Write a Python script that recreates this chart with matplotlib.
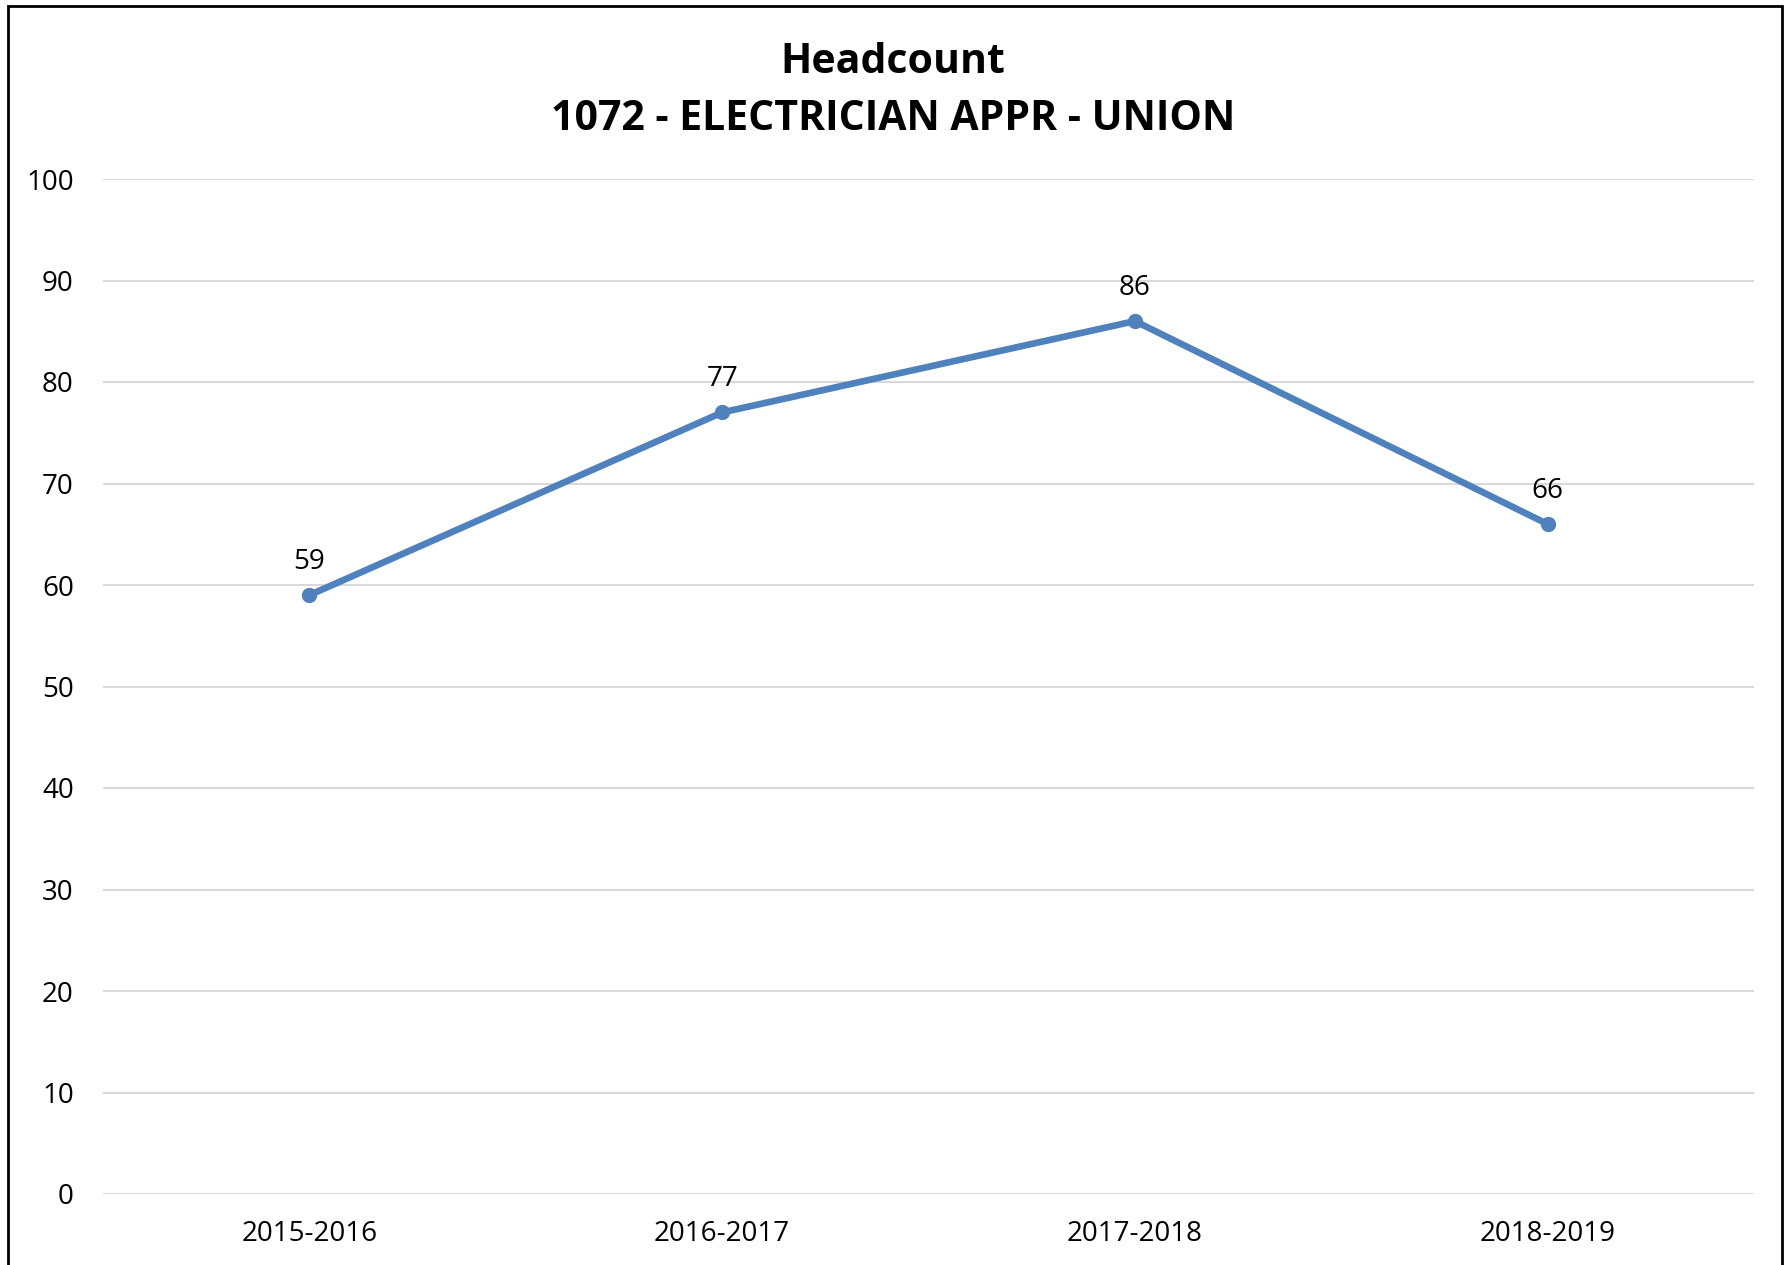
import matplotlib.pyplot as plt
from matplotlib.patches import Rectangle

# data
years = ['2015-2016', '2016-2017', '2017-2018', '2018-2019']
headcount = [59, 77, 86, 66]
y_ticks = list(range(0, 101, 10))

plt.rcParams['font.family'] = ['Open Sans', 'DejaVu Sans']

fig = plt.figure(figsize=(17.86, 12.65), dpi=100)
W, H = 1786, 1265
ax = fig.add_axes([103 / W, 1 - 1194 / H, (1754 - 103) / W, (1194 - 179) / H])

x = range(len(years))
ax.plot(x, headcount, color='#4F81BD', linewidth=4.8, marker='o',
        markersize=10, solid_capstyle='round', zorder=3)
for xi, v in zip(x, headcount):
    ax.annotate(str(v), (xi, v), xytext=(0, 14), textcoords='offset points',
                ha='center', va='bottom', fontsize=20)

ax.set_xlim(-0.5, len(years) - 0.5)
ax.set_ylim(0, 100)
ax.set_yticks(y_ticks)
ax.set_xticks(list(x))
ax.set_xticklabels(years)
ax.tick_params(axis='both', length=0, labelsize=20, colors='black')
ax.tick_params(axis='y', pad=21)
ax.tick_params(axis='x', pad=19)
ax.grid(axis='y', color='#D9D9D9', linewidth=1.5)
ax.set_axisbelow(True)
for s in ax.spines.values():
    s.set_visible(False)

fig.text(0.5, 1 - 91 / H, 'Headcount\n1072 - ELECTRICIAN APPR - UNION',
         ha='center', va='center', fontsize=29.5, fontweight='bold',
         linespacing=1.5)

# chart border
fig.patches.append(Rectangle((8 / W, -0.01), (1782 - 8) / W, 1 - 6 / H + 0.01,
                             transform=fig.transFigure, fill=False,
                             edgecolor='black', linewidth=2))

fig.savefig('out.png', dpi=100)
